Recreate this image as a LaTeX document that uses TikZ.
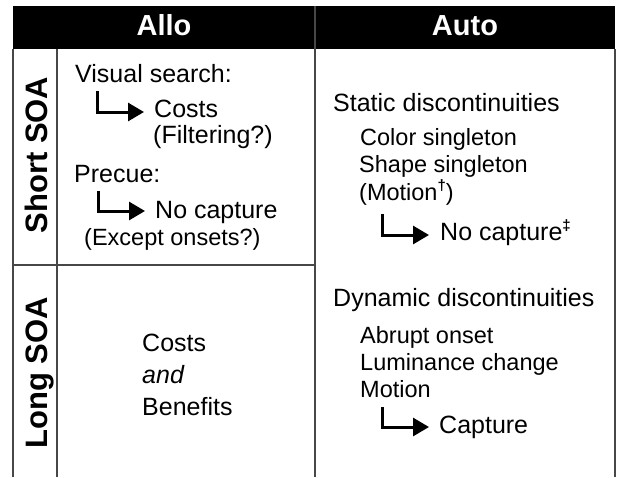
\documentclass[tikz,border=0pt]{standalone}
\usepackage{fontspec}
\setmainfont{Liberation Sans}
\usetikzlibrary{arrows.meta,calc}
\newcommand{\mydag}[1]{\raisebox{0.4em}{\fontsize{15}{15}\selectfont\bfseries #1}}
\begin{document}
\begin{tikzpicture}[x=1pt,y=-1pt,
  txt/.style={anchor=base west, inner sep=0pt, font=\fontsize{25}{28}\selectfont},
  subtxt/.style={anchor=base west, inner sep=0pt, font=\fontsize{23.5}{28}\selectfont},
  hdr/.style={anchor=base, inner sep=0pt, text=white, font=\fontsize{29}{34}\selectfont\bfseries},
  rowlbl/.style={anchor=base, inner sep=0pt, rotate=90, font=\fontsize{31}{34}\selectfont\bfseries},
  gridline/.style={draw=black!72, line width=1.6pt},
  arr/.style={line width=3pt, -{Triangle[length=16pt,width=18pt]}}]
\useasboundingbox (0,0) rectangle (620,477);
% header bar
\fill[black] (13,6) rectangle (615,49);
% grid
\draw[gridline] (13,49) -- (13,477);
\draw[gridline] (57,49) -- (57,477);
\draw[gridline] (315,6) -- (315,477);
\draw[gridline] (615,49) -- (615,477);
\draw[gridline] (13,265) -- (315,265);
% headers
\node[hdr] (allo) at (164,35) {Allo};
\node[hdr] (auto) at (465,35) {Auto};
\node[rowlbl] (short) at (47,155) {Short SOA};
\node[rowlbl] (long) at (47,373) {Long SOA};
% Allo, short SOA
\node[txt] (vs) at (75,82) {Visual search:};
\node[txt] (costs1) at (154,117) {Costs};
\node[txt] (filt) at (153,143) {(Filtering?)};
\node[txt] (precue) at (74,182) {Precue:};
\node[txt] (nocap1) at (155,218) {No capture};
\node[subtxt] (except) at (84,245) {(Except onsets?)};
% Allo, long SOA
\node[txt] (costs2) at (142,351) {Costs};
\node[txt] (and) at (142,383) {\itshape and};
\node[txt] (benef) at (142,415) {Benefits};
% Auto
\node[txt] (static) at (333,111) {Static discontinuities};
\node[subtxt] (color) at (360,145) {Color singleton};
\node[subtxt] (shape) at (359,172) {Shape singleton};
\node[subtxt] (motion1) at (359,200) {(Motion\mydag{†})};
\node[txt] (nocap2) at (440,240) {No capture\mydag{‡}};
\node[txt] (dynamic) at (333,306) {Dynamic discontinuities};
\node[subtxt] (abrupt) at (360,343) {Abrupt onset};
\node[subtxt] (lum) at (360,370) {Luminance change};
\node[subtxt] (motion2) at (360,397) {Motion};
\node[txt] (capture) at (439,433) {Capture};
% arrows
\coordinate (s1) at (97,91);
\coordinate (s2) at (98,191);
\coordinate (s3) at (382,214);
\coordinate (s4) at (382,407);
\draw[arr] (s1) |- ($(costs1.base west)+(-10,-5)$);
\draw[arr] (s2) |- ($(nocap1.base west)+(-10,-7)$);
\draw[arr] (s3) |- ($(nocap2.base west)+(-11,-5)$);
\draw[arr] (s4) |- ($(capture.base west)+(-10,-6)$);
\end{tikzpicture}
\end{document}
